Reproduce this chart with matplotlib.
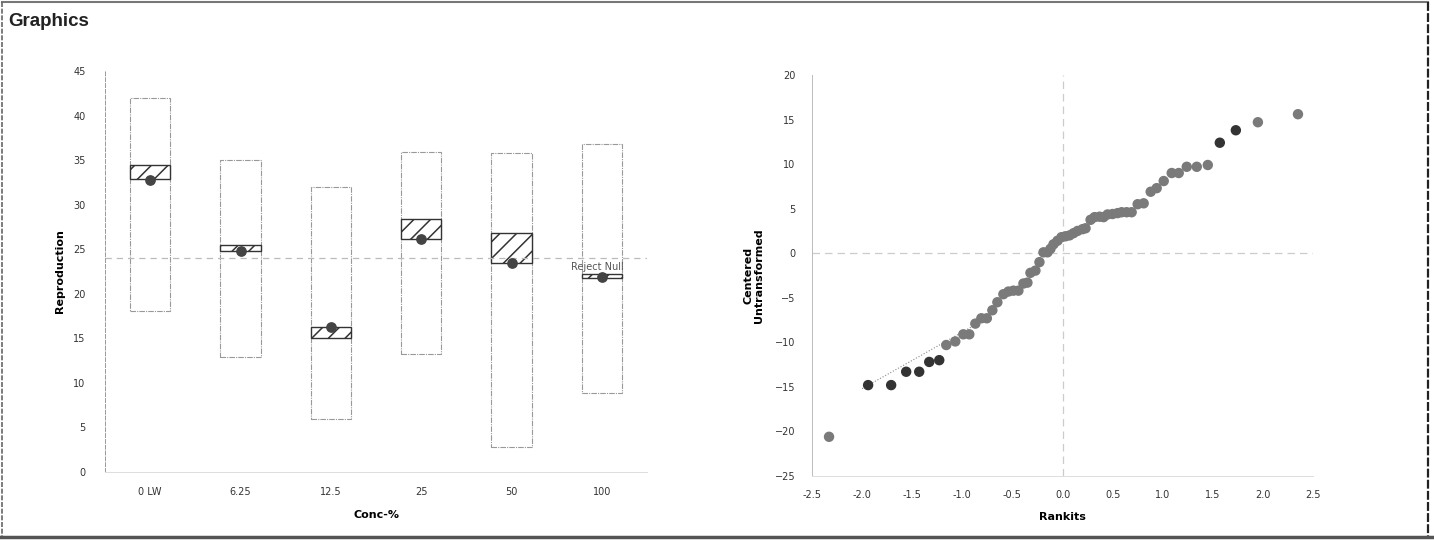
import numpy as np
import matplotlib
matplotlib.use("Agg")
import matplotlib.pyplot as plt
from matplotlib.lines import Line2D
from matplotlib.patches import Rectangle

# Left chart: reproduction by concentration
conc_labels = ["0 LW", "6.25", "12.5", "25", "50", "100"]
box_top = [42.0, 35.0, 32.0, 35.9, 35.8, 36.8]
box_bottom = [18.1, 12.9, 6.0, 13.2, 2.8, 8.9]
band_top = [34.5, 25.5, 16.3, 28.4, 26.8, 22.2]
band_bottom = [32.9, 24.8, 15.0, 26.1, 23.4, 21.8]
repro_mean = [32.8, 24.8, 16.3, 26.1, 23.4, 21.9]
ref_level = 24.0

# Right chart: normal probability plot
rankits = [-2.33, -1.94, -1.71, -1.56, -1.43, -1.33, -1.23, -1.16, -1.07, -0.99,
           -0.93, -0.87, -0.81, -0.755, -0.70, -0.65, -0.59, -0.54, -0.49, -0.44,
           -0.39, -0.35, -0.32, -0.27, -0.23, -0.19, -0.15, -0.12, -0.09, -0.05,
           -0.01, 0.03, 0.07, 0.11, 0.15, 0.20, 0.23, 0.28, 0.32, 0.37,
           0.41, 0.45, 0.50, 0.55, 0.59, 0.64, 0.69, 0.75, 0.81, 0.88,
           0.94, 1.01, 1.09, 1.16, 1.24, 1.34, 1.45, 1.57, 1.73, 1.95, 2.35]
centered = [-20.6, -14.8, -14.8, -13.3, -13.3, -12.2, -12.0, -10.3, -9.9, -9.1,
            -9.1, -7.9, -7.3, -7.3, -6.4, -5.5, -4.6, -4.3, -4.2, -4.2,
            -3.4, -3.3, -2.2, -1.95, -1.0, 0.1, 0.1, 0.5, 1.0, 1.4,
            1.8, 1.9, 2.0, 2.25, 2.5, 2.7, 2.8, 3.75, 4.05, 4.1,
            4.05, 4.35, 4.4, 4.5, 4.6, 4.6, 4.6, 5.5, 5.6, 6.9,
            7.3, 8.1, 9.0, 9.0, 9.7, 9.7, 9.9, 12.4, 13.8, 14.7, 15.6]
outlier = [False, True, True, True, True, True, True] + [False] * 50 + [True, True, False, False]
fit_x = [-2.0, -0.85]
fit_y = [-15.2, -7.9]

plt.rcParams['font.family'] = ['DejaVu Sans']
plt.rcParams['hatch.linewidth'] = 1.1
plt.rcParams['hatch.color'] = '#333333'

fig = plt.figure(figsize=(14.34, 5.40), dpi=100)
fig.patch.set_facecolor('white')

# page frame
def fline(x0, y0, x1, y1, **kw):
    fig.add_artist(Line2D([x0 / 1434, x1 / 1434], [1 - y0 / 540, 1 - y1 / 540],
                          transform=fig.transFigure, **kw))

fline(2, 2, 1428, 2, color='#777777', lw=1.5)
fline(2, 2, 2, 536, color='#666666', lw=1.2, ls=(0, (3, 1)))
fline(1428, 2, 1428, 536, color='#222222', lw=1.6, ls=(0, (4, 1)))
fline(0, 537, 1434, 537, color='#555555', lw=2.5)

fig.text(8 / 1434, 1 - 22 / 540, "Graphics", fontsize=13.5, fontweight='bold',
         family='Liberation Sans', va='center', ha='left', color='#222222')

# ---------- left chart ----------
ax1 = fig.add_axes([105 / 1434, 1 - 472 / 540, 542 / 1434, 401 / 540])
x = np.arange(len(conc_labels))
w = 0.45
for i in x:
    ax1.add_patch(Rectangle((i - w / 2, box_bottom[i]), w, box_top[i] - box_bottom[i],
                            facecolor='none', edgecolor='#999999', lw=0.8,
                            ls=(0, (5, 1, 1, 1))))
    ax1.add_patch(Rectangle((i - w / 2, band_bottom[i]), w, band_top[i] - band_bottom[i],
                            facecolor='white', edgecolor='#333333', lw=1.0, hatch='//'))
ax1.axhline(ref_level, color='#bbbbbb', lw=0.9, ls=(0, (5, 4)), zorder=1)
ax1.scatter(x, repro_mean, s=45, color='#444444', zorder=5)
ax1.text(5 - 0.05, 23.0, "Reject Null", fontsize=7, color='#555555', ha='center', va='center')

ax1.set_xlim(-0.5, 5.5)
ax1.set_ylim(0, 45)
ax1.set_yticks(np.arange(0, 46, 5))
ax1.set_xticks(x)
ax1.set_xticklabels(conc_labels)
ax1.tick_params(length=0, labelsize=7, colors='#333333')
ax1.tick_params(axis='x', pad=11)
ax1.tick_params(axis='y', pad=14)
for s in ['top', 'right']:
    ax1.spines[s].set_visible(False)
ax1.spines['left'].set_color('#999999')
ax1.spines['left'].set_linestyle((0, (4, 2)))
ax1.spines['left'].set_linewidth(0.7)
ax1.spines['bottom'].set_color('#dddddd')
ax1.spines['bottom'].set_linewidth(0.7)
ax1.set_ylabel("Reproduction", fontsize=8, fontweight='bold', labelpad=6)
ax1.set_xlabel("Conc-%", fontsize=8, fontweight='bold', labelpad=9)

# ---------- right chart ----------
ax2 = fig.add_axes([812 / 1434, 1 - 476 / 540, 501 / 1434, 401 / 540])
ax2.axhline(0, color='#cccccc', lw=0.9, ls=(0, (6, 4)), zorder=1)
ax2.axvline(0, color='#cccccc', lw=0.9, ls=(0, (6, 4)), zorder=1)
ax2.plot(fit_x, fit_y, color='#888888', lw=0.8, ls=':', zorder=2)
cols = ['#333333' if o else '#7a7a7a' for o in outlier]
ax2.scatter(rankits, centered, s=42, c=cols, zorder=5)

ax2.set_xlim(-2.5, 2.5)
ax2.set_ylim(-25, 20)
ax2.set_xticks(np.arange(-2.5, 2.51, 0.5))
ax2.set_xticklabels([f"{v:.1f}" for v in np.arange(-2.5, 2.51, 0.5)])
ax2.set_yticks(np.arange(-25, 21, 5))
ax2.tick_params(length=0, labelsize=7, colors='#333333')
ax2.tick_params(axis='x', pad=10)
ax2.tick_params(axis='y', pad=12)
for s in ['top', 'right']:
    ax2.spines[s].set_visible(False)
ax2.spines['left'].set_color('#bbbbbb')
ax2.spines['left'].set_linewidth(0.7)
ax2.spines['bottom'].set_color('#dddddd')
ax2.spines['bottom'].set_linewidth(0.7)
ax2.set_ylabel("Centered\nUntransformed", fontsize=8, fontweight='bold', labelpad=8,
               linespacing=1.0)
ax2.set_xlabel("Rankits", fontsize=8, fontweight='bold', labelpad=9)

fig.savefig("out.png", dpi=100, facecolor='white')
